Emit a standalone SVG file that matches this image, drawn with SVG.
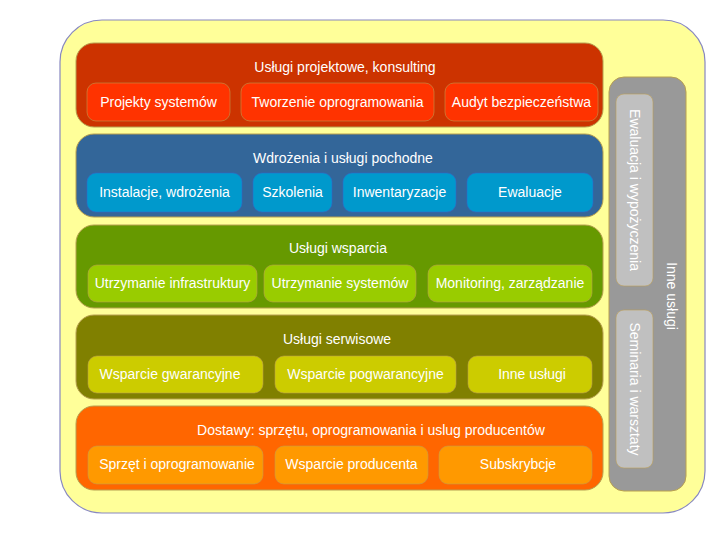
<svg xmlns="http://www.w3.org/2000/svg" width="720" height="540" viewBox="0 0 720 540">
<style>
text{font-family:"Liberation Sans",Arial,sans-serif;font-size:14px;fill:#fff;text-anchor:middle;dominant-baseline:central}
.band{stroke:#b8a050;stroke-width:1}
.sub{stroke:#c0a050;stroke-width:0.8;stroke-opacity:0.7}
</style>
<rect width="720" height="540" fill="#fff"/>
<g id="outer"><rect x="60" y="20" width="645" height="493" rx="42" fill="#ffff99" stroke="#8888c0" stroke-width="1.2"/></g>

<g id="band-projektowe">
<rect class="band" x="76" y="43" width="527" height="84" rx="18" fill="#cc3300"/>
<text x="345" y="67">Usługi projektowe, konsulting</text>
<g id="projekty"><rect class="sub" x="87" y="83" width="143" height="38" rx="9" fill="#ff3300"/><text x="158.5" y="102">Projekty systemów</text></g>
<g id="tworzenie"><rect class="sub" x="241" y="83" width="193" height="38" rx="9" fill="#ff3300"/><text x="337.5" y="102">Tworzenie oprogramowania</text></g>
<g id="audyt"><rect class="sub" x="445" y="83" width="153" height="38" rx="9" fill="#ff3300"/><text x="521.5" y="102">Audyt bezpieczeństwa</text></g>
</g>

<g id="band-wdrozenia">
<rect class="band" x="76" y="134" width="527" height="83" rx="18" fill="#336699"/>
<text x="343" y="158">Wdrożenia i usługi pochodne</text>
<g id="instalacje"><rect class="sub" x="87" y="173" width="155" height="39" rx="9" fill="#0099cc" style="stroke:#3366cc"/><text x="164.5" y="192">Instalacje, wdrożenia</text></g>
<g id="szkolenia"><rect class="sub" x="253" y="173" width="79" height="39" rx="9" fill="#0099cc" style="stroke:#3366cc"/><text x="292.5" y="192">Szkolenia</text></g>
<g id="inwentaryzacje"><rect class="sub" x="343" y="173" width="113" height="39" rx="9" fill="#0099cc" style="stroke:#3366cc"/><text x="399.5" y="192">Inwentaryzacje</text></g>
<g id="ewaluacje"><rect class="sub" x="467" y="173" width="126" height="39" rx="9" fill="#0099cc" style="stroke:#3366cc"/><text x="530" y="192">Ewaluacje</text></g>
</g>

<g id="band-wsparcia">
<rect class="band" x="76" y="225" width="527" height="83" rx="18" fill="#669900"/>
<text x="338" y="248">Usługi wsparcia</text>
<g id="infrastruktura"><rect class="sub" x="88" y="265" width="169" height="37" rx="9" fill="#99cc00"/><text x="172.5" y="283">Utrzymanie infrastruktury</text></g>
<g id="systemy"><rect class="sub" x="264" y="265" width="152" height="37" rx="9" fill="#99cc00"/><text x="340" y="283">Utrzymanie systemów</text></g>
<g id="monitoring"><rect class="sub" x="428" y="265" width="164" height="37" rx="9" fill="#99cc00"/><text x="510" y="283">Monitoring, zarządzanie</text></g>
</g>

<g id="band-serwisowe">
<rect class="band" x="76" y="315" width="527" height="84" rx="18" fill="#808000"/>
<text x="337" y="339">Usługi serwisowe</text>
<g id="gwarancyjne"><rect class="sub" x="88" y="356" width="175" height="37" rx="9" fill="#cccc00"/><text x="170" y="374">Wsparcie gwarancyjne</text></g>
<g id="pogwarancyjne"><rect class="sub" x="275" y="356" width="181" height="37" rx="9" fill="#cccc00"/><text x="365.5" y="374">Wsparcie pogwarancyjne</text></g>
<g id="inne"><rect class="sub" x="468" y="356" width="124" height="37" rx="9" fill="#cccc00"/><text x="532" y="374">Inne usługi</text></g>
</g>

<g id="band-dostawy">
<rect class="band" x="76" y="406" width="527" height="84" rx="18" fill="#ff6600"/>
<text x="371" y="430">Dostawy: sprzętu, oprogramowania i uslug producentów</text>
<g id="sprzet"><rect class="sub" x="88" y="446" width="175" height="38" rx="9" fill="#ff9900"/><text x="177" y="464">Sprzęt i oprogramowanie</text></g>
<g id="producent"><rect class="sub" x="275" y="446" width="153" height="38" rx="9" fill="#ff9900"/><text x="351.5" y="464">Wsparcie producenta</text></g>
<g id="subskrybcje"><rect class="sub" x="439" y="446" width="153" height="38" rx="9" fill="#ff9900"/><text x="518" y="464">Subskrybcje</text></g>
</g>

<g id="inne-uslugi">
<rect class="band" x="609" y="77" width="77" height="414" rx="15" fill="#999999"/>
<text transform="translate(672,296) rotate(90)">Inne usługi</text>
<g id="ewaluacja"><rect class="sub" x="616" y="94" width="37" height="192" rx="8" fill="#c0c0c0"/><text transform="translate(634.5,190) rotate(90)">Ewaluacja i wypożyczenia</text></g>
<g id="seminaria"><rect class="sub" x="616" y="310" width="37" height="158" rx="8" fill="#c0c0c0"/><text transform="translate(634.5,389) rotate(90)">Seminaria i warsztaty</text></g>
</g>
<g id="connectors"></g>
</svg>
